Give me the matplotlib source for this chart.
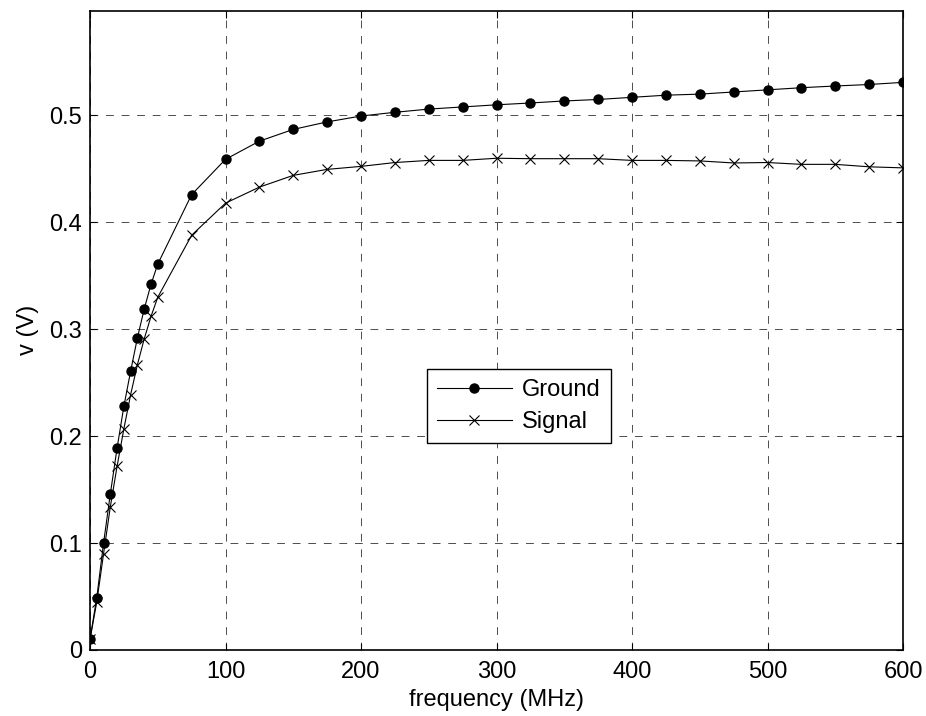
import matplotlib
matplotlib.use("Agg")
import matplotlib.pyplot as plt

plt.rcParams["font.family"] = ["Liberation Sans", "DejaVu Sans"]

# frequency points (MHz)
freq = [0, 5, 10, 15, 20, 25, 30, 35, 40, 45, 50,
        75, 100, 125, 150, 175, 200, 225, 250, 275, 300, 325,
        350, 375, 400, 425, 450, 475, 500, 525, 550, 575, 600]

ground = [0.010, 0.049, 0.100, 0.146, 0.189, 0.228, 0.261, 0.292, 0.319, 0.342, 0.361,
          0.426, 0.459, 0.476, 0.487, 0.494, 0.4995, 0.503, 0.506, 0.508, 0.510, 0.5117,
          0.5136, 0.515, 0.517, 0.519, 0.520, 0.522, 0.524, 0.526, 0.5276, 0.529, 0.531]

signal = [0.010, 0.045, 0.090, 0.134, 0.172, 0.207, 0.239, 0.267, 0.291, 0.312, 0.330,
          0.388, 0.418, 0.433, 0.444, 0.4496, 0.4524, 0.456, 0.458, 0.458, 0.460, 0.4596,
          0.4596, 0.4596, 0.458, 0.458, 0.4575, 0.4556, 0.456, 0.4543, 0.4543, 0.452, 0.451]

xticks = [0, 100, 200, 300, 400, 500, 600]
yticks = [0, 0.1, 0.2, 0.3, 0.4, 0.5]
ytick_labels = ["0", "0.1", "0.2", "0.3", "0.4", "0.5"]

FS = 17

fig = plt.figure(figsize=(9.26, 7.16), dpi=100)
ax = fig.add_axes([0.0972, 0.0922, 0.878, 0.8928])

ax.plot(freq, ground, color="black", lw=0.8, marker="o", ms=6.5, label="Ground")
ax.plot(freq, signal, color="black", lw=0.8, marker="x", ms=6.5, mew=0.8, label="Signal")

ax.set_xlim(0, 600)
ax.set_ylim(0, 0.598)
ax.set_xticks(xticks)
ax.set_yticks(yticks)
ax.set_yticklabels(ytick_labels)
ax.tick_params(direction="in", top=True, right=True, labelsize=FS, length=5, width=0.8)
ax.tick_params(axis="x", pad=8)
ax.tick_params(axis="y", pad=5.5)

ax.grid(True, color="0.3", lw=0.7, linestyle=(0, (8, 8)))
for sp in ax.spines.values():
    sp.set_linewidth(1.2)

ax.set_xlabel("frequency (MHz)", fontsize=FS, labelpad=4)
ax.set_ylabel("v (V)", fontsize=FS, labelpad=8)

leg = ax.legend(loc="lower left", bbox_to_anchor=(0.4145, 0.324), fontsize=FS,
                fancybox=False, framealpha=1, edgecolor="black", borderaxespad=0,
                handlelength=3.2, handletextpad=0.42, borderpad=0.41, labelspacing=0.44)
leg.get_frame().set_linewidth(1.0)

fig.savefig("out.png", dpi=100)
